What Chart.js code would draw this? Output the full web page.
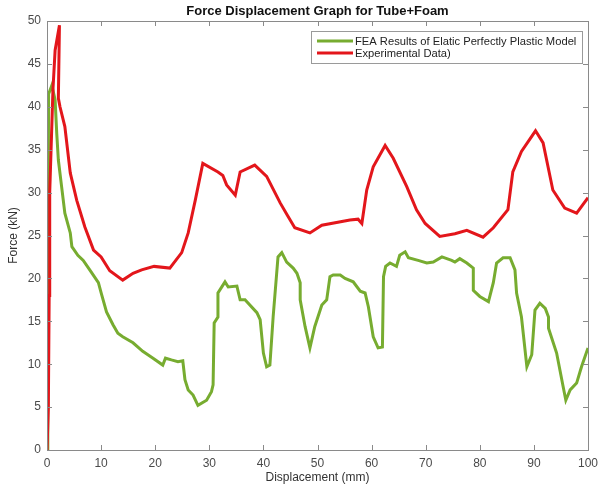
<!DOCTYPE html>
<html>
<head>
<meta charset="utf-8">
<script src="https://cdn.jsdelivr.net/npm/chart.js@4.4.1/dist/chart.umd.min.js"></script>
<style>
  body { margin: 0; background: #fff; }
  #wrap { width: 600px; height: 486px; }
</style>
</head>
<body>
<div id="wrap"><canvas id="forceChart" width="600" height="486"></canvas></div>
<script>
// Chart text
const chartTitle = 'Force Displacement Graph for Tube+Foam';
const xLabel = 'Displacement (mm)';
const yLabel = 'Force (kN)';
const feaName = 'FEA Results of Elatic Perfectly Plastic Model';
const expName = 'Experimental Data)';

// FEA curve
const feaX = [0, 0.15, 0.3, 0.9, 1.5, 1.8, 2.1, 2.7, 3.3, 4.3, 4.6, 5.7, 6.7, 7.9, 9.5, 10.1, 11, 12.2, 13.1, 14,
  15.9, 17.7, 19.6, 21.4, 21.9, 23, 24.2, 25.1, 25.5, 26.1, 27, 27.9, 29.5, 30.4, 30.7, 30.9, 31.6, 31.6, 32.9, 33.5,
  35.1, 35.7, 36.6, 38.8, 39.4, 40, 40.6, 41.2, 41.8, 42.7, 43.4, 44.3, 45.5, 46.2, 46.8, 46.8, 47.7, 48.6, 49.5, 50.8,
  51.7, 52.3, 52.9, 54.2, 55.1, 56.6, 57.9, 58.8, 59.4, 60.3, 61.2, 62, 62.2, 62.6, 63.4, 64.6, 65.2, 66.2, 66.8, 68.6,
  70.2, 71.4, 73, 73.9, 74.8, 75.4, 76.3, 77.6, 78.8, 78.8, 80, 81.6, 82.5, 83.1, 84.3, 85.6, 86.5, 86.8, 87.7, 88.7,
  89.6, 90.2, 91.1, 92.1, 92.7, 92.7, 94.2, 95.4, 95.9, 96.7, 97.9, 98.8, 100];
const feaY = [0, 20, 41.5, 42.5, 40.8, 36.9, 33.8, 30.7, 27.6, 25.3, 23.7, 22.7, 22.1, 21, 19.5, 18.1, 16.1, 14.6, 13.6, 13.2,
  12.5, 11.5, 10.7, 9.9, 10.7, 10.5, 10.3, 10.4, 8.2, 7, 6.4, 5.2, 5.8, 6.8, 7.6, 14.8, 15.5, 18.3, 19.6, 19,
  19.1, 17.5, 17.5, 16, 15.2, 11.3, 9.7, 9.9, 15.5, 22.5, 23, 21.9, 21.2, 20.6, 19.5, 17.5, 14.4, 11.9, 14.4, 16.9,
  17.5, 20.2, 20.4, 20.4, 20, 19.6, 18.5, 18.3, 16.7, 13.2, 11.9, 12, 20.2, 21.4, 21.8, 21.4, 22.7, 23.1, 22.4, 22.1,
  21.8, 21.9, 22.5, 22.3, 22.1, 21.9, 22.3, 21.8, 21.2, 18.6, 17.9, 17.3, 19.5, 21.8, 22.4, 22.4, 21, 18.3, 15.5, 9.7,
  11.1, 16.3, 17.1, 16.5, 15.5, 14.2, 11.3, 7.4, 5.8, 7, 7.8, 9.7, 11.9];

// Experimental curve
const expX = [0, 0.25, 0.4, 0.5, 1.1, 1.5, 2.3, 2.1, 2.4, 3.3, 4.3, 5.5, 7, 8.6, 10, 11.6, 14, 15.9, 17.5, 19.8,
  22.7, 24.9, 26.1, 27.4, 28.8, 31.6, 32.5, 33.2, 34.8, 35.7, 38.4, 40.6, 43.1, 44.4, 45.8, 48.6, 50.8, 56, 57.5, 58.2,
  59.1, 60.3, 62.5, 64, 66.5, 68.3, 69.9, 72.6, 75.4, 77.6, 80.6, 82.5, 85.2, 86.1, 87.7, 90.3, 91.7, 93.5, 95.7, 97.9, 100];
const expY = [0, 5, 18, 30, 42, 46.6, 49.5, 41, 40, 37.7, 32.3, 29.1, 26, 23.3, 22.5, 20.9, 19.8, 20.6, 21, 21.4,
  21.2, 23, 25.3, 29.1, 33.4, 32.4, 32, 30.9, 29.7, 32.4, 33.2, 31.9, 28.8, 27.4, 25.9, 25.3, 26.2, 26.8, 26.9, 26.4,
  30.3, 33, 35.5, 34, 30.7, 28, 26.4, 24.9, 25.2, 25.6, 24.8, 25.9, 28, 32.4, 34.8, 37.2, 35.8, 30.3, 28.2, 27.6, 29.4];

// Axis ticks
const xTicks = [0, 10, 20, 30, 40, 50, 60, 70, 80, 90, 100];
const yTicks = [0, 5, 10, 15, 20, 25, 30, 35, 40, 45, 50];

const feaColor = '#77ac30';
const expColor = '#e3161b';
const fontFamily = '"Liberation Sans", Arial, sans-serif';

function toPoints(xs, ys) {
  return xs.map((x, i) => ({ x: x, y: ys[i] }));
}

// Draws the MATLAB style box, inward ticks, title and legend
const matlabFrame = {
  id: 'matlabFrame',
  afterDatasetsDraw(chart) {
    const ctx = chart.ctx;
    const a = chart.chartArea;
    const xs = chart.scales.x;
    const ys = chart.scales.y;
    ctx.save();
    ctx.strokeStyle = '#8a8a8a';
    ctx.lineWidth = 1;
    ctx.strokeRect(a.left + 0.5, a.top + 0.5, a.right - a.left, a.bottom - a.top);
    ctx.beginPath();
    xTicks.forEach(v => {
      const px = Math.round(xs.getPixelForValue(v)) + 0.5;
      ctx.moveTo(px, a.bottom); ctx.lineTo(px, a.bottom - 5);
      ctx.moveTo(px, a.top); ctx.lineTo(px, a.top + 5);
    });
    yTicks.forEach(v => {
      const py = Math.round(ys.getPixelForValue(v)) + 0.5;
      ctx.moveTo(a.left, py); ctx.lineTo(a.left + 5, py);
      ctx.moveTo(a.right, py); ctx.lineTo(a.right - 5, py);
    });
    ctx.stroke();

    // title
    ctx.fillStyle = '#111';
    ctx.font = 'bold 13px ' + fontFamily;
    ctx.textAlign = 'center';
    ctx.textBaseline = 'middle';
    ctx.fillText(chartTitle, (a.left + a.right) / 2, 11);

    // legend box
    const bx = 311, by = 31, bw = 271, bh = 32;
    ctx.fillStyle = '#fff';
    ctx.fillRect(bx, by, bw, bh);
    ctx.strokeStyle = '#9a9a9a';
    ctx.strokeRect(bx + 0.5, by + 0.5, bw, bh);
    const rows = [[feaName, feaColor, by + 10], [expName, expColor, by + 22]];
    ctx.font = '11.2px ' + fontFamily;
    ctx.textAlign = 'left';
    rows.forEach(r => {
      ctx.strokeStyle = r[1];
      ctx.lineWidth = 3;
      ctx.beginPath();
      ctx.moveTo(bx + 6, r[2]); ctx.lineTo(bx + 42, r[2]);
      ctx.stroke();
      ctx.fillStyle = '#222';
      ctx.fillText(r[0], bx + 44, r[2] + 1);
    });
    ctx.restore();
  }
};

const ctx = document.getElementById('forceChart').getContext('2d');
new Chart(ctx, {
  type: 'scatter',
  data: {
    datasets: [
      {
        label: feaName,
        data: toPoints(feaX, feaY),
        showLine: true,
        borderColor: feaColor,
        borderWidth: 3,
        pointRadius: 0,
        tension: 0,
        order: 1
      },
      {
        label: expName,
        data: toPoints(expX, expY),
        showLine: true,
        borderColor: expColor,
        borderWidth: 3,
        pointRadius: 0,
        tension: 0,
        order: 0
      }
    ]
  },
  options: {
    responsive: false,
    animation: false,
    layout: { padding: { top: 21, right: 12, left: 0, bottom: 0 } },
    plugins: {
      legend: { display: false },
      title: { display: false },
      tooltip: { enabled: false }
    },
    scales: {
      x: {
        type: 'linear',
        min: 0,
        max: 100,
        afterBuildTicks: s => { s.ticks = xTicks.map(v => ({ value: v })); },
        afterFit: s => { s.height = 36; s.paddingRight = 0; s.paddingLeft = 0; },
        grid: { display: false, drawTicks: false },
        border: { display: false },
        ticks: { padding: 6, color: '#4a4a4a', font: { family: fontFamily, size: 12 } },
        title: { display: true, text: xLabel, color: '#333', padding: { top: 0, bottom: 1 }, font: { family: fontFamily, size: 12 } }
      },
      y: {
        type: 'linear',
        min: 0,
        max: 50,
        afterBuildTicks: s => { s.ticks = yTicks.map(v => ({ value: v })); },
        afterFit: s => { s.width = 47; s.paddingTop = 0; s.paddingBottom = 0; },
        grid: { display: false, drawTicks: false },
        border: { display: false },
        ticks: { padding: 6, color: '#4a4a4a', font: { family: fontFamily, size: 12 } },
        title: { display: true, text: yLabel, color: '#333', padding: { top: 6, bottom: 0 }, font: { family: fontFamily, size: 12 } }
      }
    }
  },
  plugins: [matlabFrame]
});
</script>
</body>
</html>
